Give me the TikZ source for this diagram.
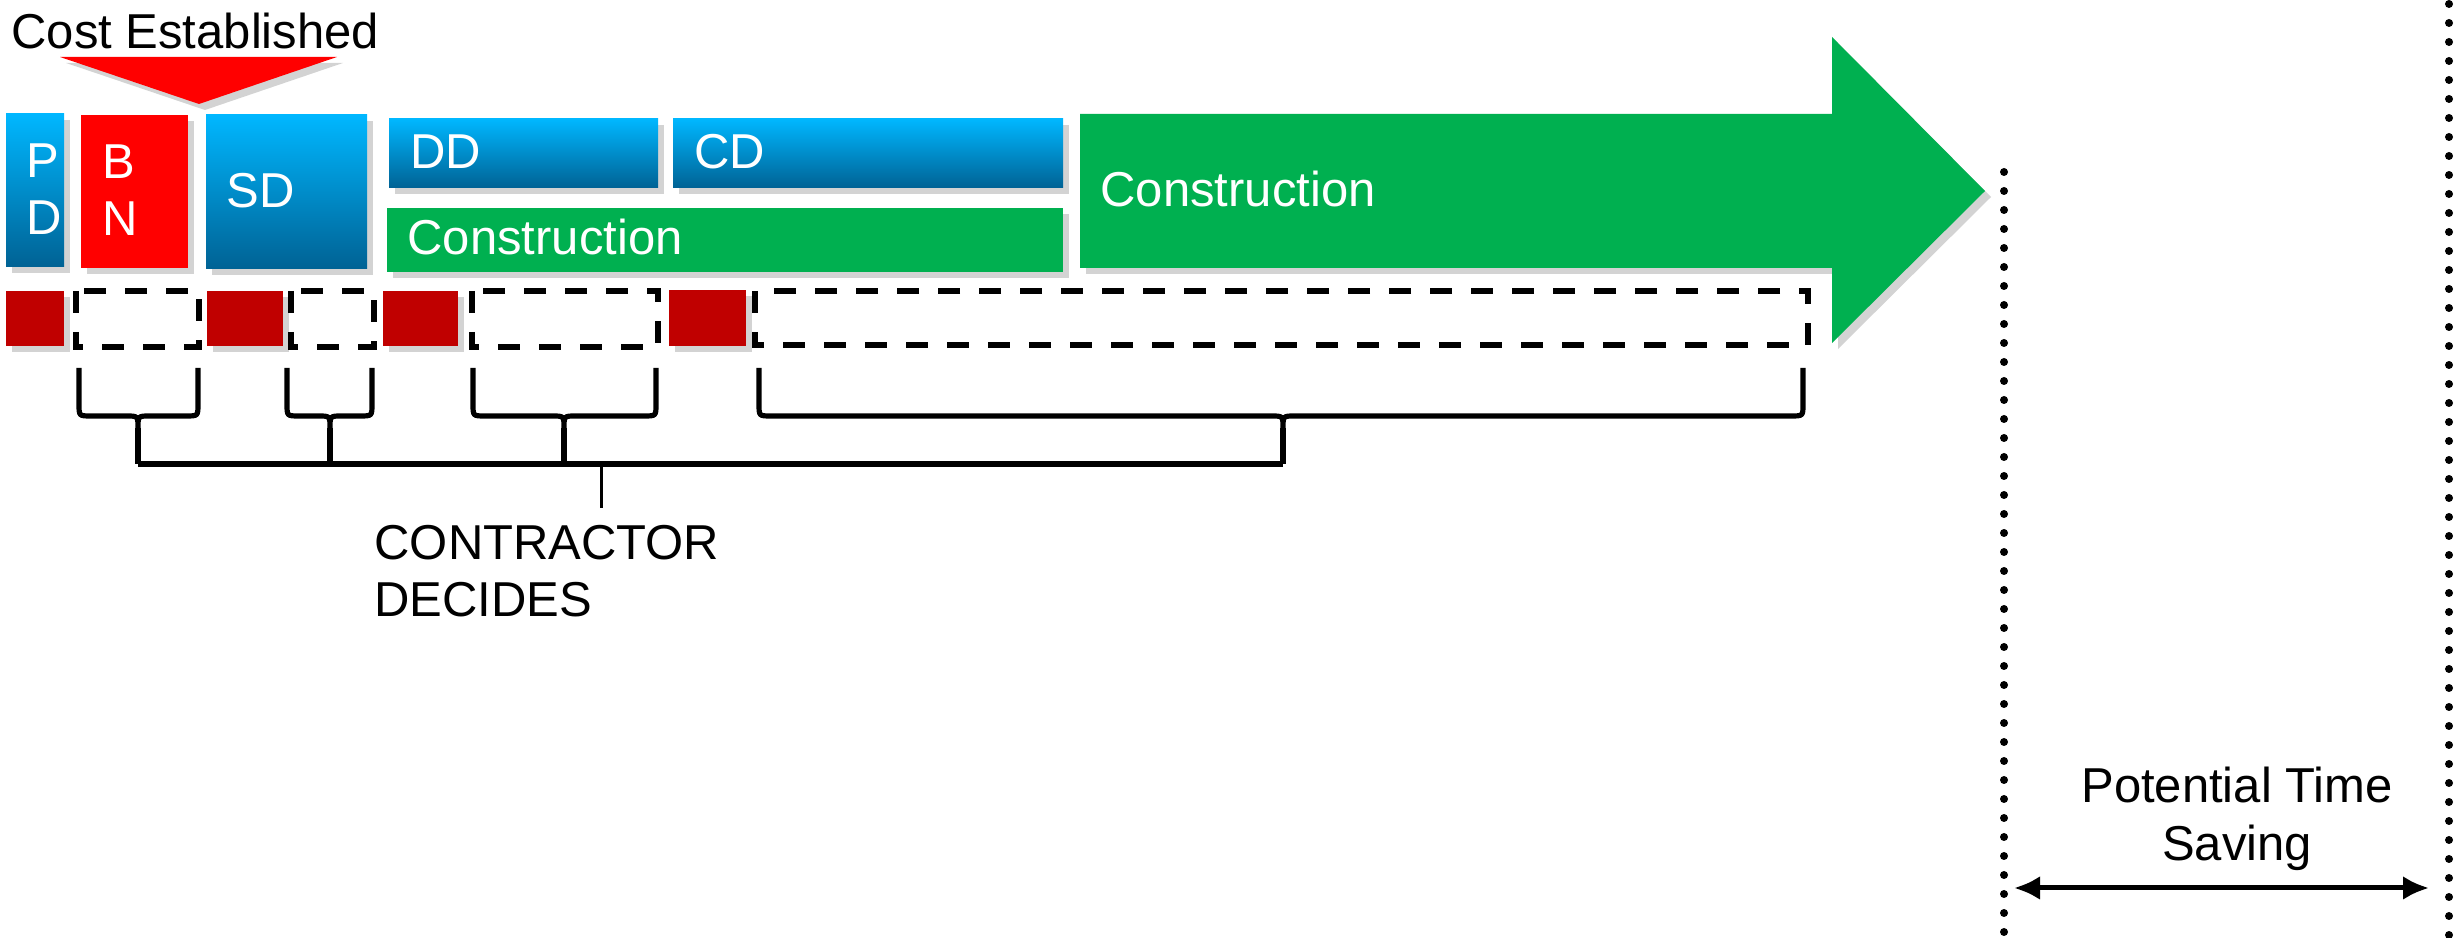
\documentclass[tikz,border=0pt]{standalone}
\usepackage{fontspec}
\setmainfont{Liberation Sans}
\usetikzlibrary{shadows,arrows.meta}

\definecolor{phaseblue}{RGB}{0,183,255}
\definecolor{phasebluedark}{RGB}{0,98,148}
\definecolor{bidred}{RGB}{255,0,0}
\definecolor{gatered}{RGB}{192,0,0}
\definecolor{buildgreen}{RGB}{0,176,80}

\tikzset{every picture/.style={line width=0.75pt}}
\tikzset{
  phase shadow/.style={drop shadow={opacity=0.35,shadow xshift=1.5pt,shadow yshift=-1.5pt}},
  blue phase/.style={top color=phaseblue,bottom color=phasebluedark,phase shadow},
  label text/.style={anchor=north west,inner sep=0pt,align=left,font=\fontsize{12.25}{14.25}\selectfont},
  box text/.style={label text,text=white},
  open slot/.style={line width=1.3pt,dash pattern={on 5.5pt off 4.75pt}},
  brace line/.style={line width=1.3pt},
  time limit/.style={line width=2pt,line cap=round,dash pattern={on 0pt off 4.75pt}},
}

\begin{document}
\begin{tikzpicture}[x=0.25pt,y=0.25pt,yscale=-1,xscale=1]
\useasboundingbox (0,0) rectangle (2463,938);

%Cost established marker
\fill [bidred,phase shadow] (60,57) -- (337,57) -- (199,104) -- cycle ;
\draw (10,12) node [label text] (costlbl) {Cost Established};

%Phase boxes
\path [blue phase] (6,114) rectangle (64,267) ;
\fill [bidred,phase shadow] (81,115) rectangle (188,268) ;
\path [blue phase] (206,115) rectangle (367,269) ;
\path [blue phase] (389,119) rectangle (658,188) ;
\path [blue phase] (673,119) rectangle (1063,188) ;
\fill [buildgreen,phase shadow] (387,208) rectangle (1063,272) ;
%Construction arrow
\fill [buildgreen,phase shadow] (1080,114) -- (1832,114) -- (1832,37) -- (1985,191) -- (1832,343) -- (1832,268) -- (1080,268) -- cycle ;

% Text Node
\draw (25,142) node [box text] (pdlbl) {P\\D};
% Text Node
\draw (101,143) node [box text] (bnlbl) {B\\N};
% Text Node
\draw (225,172) node [box text] (sdlbl) {SD};
% Text Node
\draw (409,133) node [box text] (ddlbl) {DD};
% Text Node
\draw (693,133) node [box text] (cdlbl) {CD};
% Text Node
\draw (406,218) node [box text] (conlbl) {Construction};
% Text Node
\draw (1099,170) node [box text] (buildlbl) {Construction};

%Decision gates
\fill [gatered,phase shadow] (6,291) rectangle (64,346) ;
\fill [gatered,phase shadow] (207,291) rectangle (283,346) ;
\fill [gatered,phase shadow] (383,291) rectangle (458,346) ;
\fill [gatered,phase shadow] (669,290) rectangle (746,346) ;
%Open slots
\draw [open slot] (76,291) rectangle (199,347) ;
\draw [open slot] (291,291) rectangle (374,347) ;
\draw [open slot] (472,291) rectangle (658,347) ;
\draw [open slot] (755,291) rectangle (1808,345) ;

%Braces
\coordinate (tipbn) at (138,464);
\coordinate (tipsd) at (330,464);
\coordinate (tipdd) at (564,464);
\coordinate (tipcon) at (1283,464);
\coordinate (stub) at (601,464);
\draw [brace line] (79,368) -- (79,404) .. controls (79,416) .. (91,416) -- (126,416) .. controls (138,416) .. (138,428) .. controls (138,416) .. (150,416) -- (186,416) .. controls (198,416) .. (198,404) -- (198,368) ;
\draw [brace line] (138,428) -- (tipbn) ;
\draw [brace line] (287,368) -- (287,404) .. controls (287,416) .. (299,416) -- (318,416) .. controls (330,416) .. (330,428) .. controls (330,416) .. (342,416) -- (360,416) .. controls (372,416) .. (372,404) -- (372,368) ;
\draw [brace line] (330,428) -- (tipsd) ;
\draw [brace line] (473,368) -- (473,404) .. controls (473,416) .. (485,416) -- (552,416) .. controls (564,416) .. (564,428) .. controls (564,416) .. (576,416) -- (644,416) .. controls (656,416) .. (656,404) -- (656,368) ;
\draw [brace line] (564,428) -- (tipdd) ;
\draw [brace line] (759,368) -- (759,404) .. controls (759,416) .. (771,416) -- (1271,416) .. controls (1283,416) .. (1283,428) .. controls (1283,416) .. (1295,416) -- (1791,416) .. controls (1803,416) .. (1803,404) -- (1803,368) ;
\draw [brace line] (1283,428) -- (tipcon) ;
\draw [brace line] (tipbn) -- (tipcon) ;
\draw (stub) -- ++(0,44) ;

% Text Node
\draw (373,524) node [label text] (decidelbl) {CONTRACTOR\\DECIDES};

%Time limits
\coordinate (oldend) at (2004,888);
\coordinate (newend) at (2449,888);
\draw [time limit] (2004,172) -- (2004,938) ;
\draw [time limit] (2449,4) -- (2449,938) ;
\draw [line width=1.25pt,{Latex[length=6.5pt,width=6pt]}-{Latex[length=6.5pt,width=6pt]},shorten <=2.5pt,shorten >=5pt] (oldend) -- (newend) ;

% Text Node
\draw (2237,766) node [label text,anchor=north,align=center] (savelbl) {Potential Time\\Saving};
\end{tikzpicture}
\end{document}
